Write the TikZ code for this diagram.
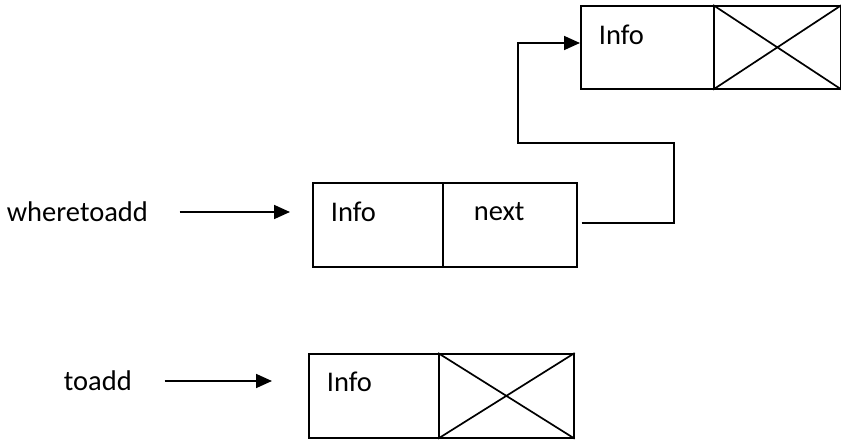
\documentclass[tikz,border=0pt]{standalone}
\usepackage{fontspec}
\setmainfont{Carlito}
\usetikzlibrary{arrows.meta}

\begin{document}
\begin{tikzpicture}[x=1pt,y=-1pt,line width=1.7pt,
% common options for the list cells:
cell/.style = {draw, rectangle, anchor=north west, minimum height=84pt, inner sep=0},
% common options for the texts:
txt/.style = {anchor=west, inner sep=0, font=\fontsize{28.5}{34}\selectfont},
% pointer arrows:
ptr/.style = {-{Triangle[length=16pt,width=14pt]}}]
\useasboundingbox (0,0) rectangle (841,441);
\node[cell,minimum width=133pt,minimum height=83pt] (A1) at (580,5) {};
\node[cell,minimum width=127pt,minimum height=83pt] (A2) at (713,5) {};
\node[cell,minimum width=130pt] (B1) at (312,182) {};
\node[cell,minimum width=134pt] (B2) at (442,182) {};
\node[cell,minimum width=130pt] (C1) at (308,353) {};
\node[cell,minimum width=135pt] (C2) at (438,353) {};
\node[txt] (A1t) at (598,35) {Info};
\node[txt] (B1t) at (330,212) {Info};
\node[txt] (B2t) at (473,212) {next};
\node[txt] (C1t) at (326,382) {Info};
\node[txt] (W) at (6,212) {wheretoadd};
\node[txt] (T) at (63,381) {toadd};
% empty next fields
\draw (A2.north west) -- (A2.south east) (A2.south west) -- (A2.north east);
\draw (C2.north west) -- (C2.south east) (C2.south west) -- (C2.north east);
% pointers
\draw[ptr] ([xshift=31pt]W.east) -- ([xshift=-22pt]B1.west |- W.east);
\draw[ptr] ([xshift=32pt]T.east) -- ([xshift=-36pt]C1.west |- T.east);
\coordinate (P) at ([xshift=4pt,yshift=2pt]B2.east);
\draw[ptr] (P) -- ++(92,0) |- (518,143) |- (A1.west |- 0,43);
\end{tikzpicture}
\end{document}
